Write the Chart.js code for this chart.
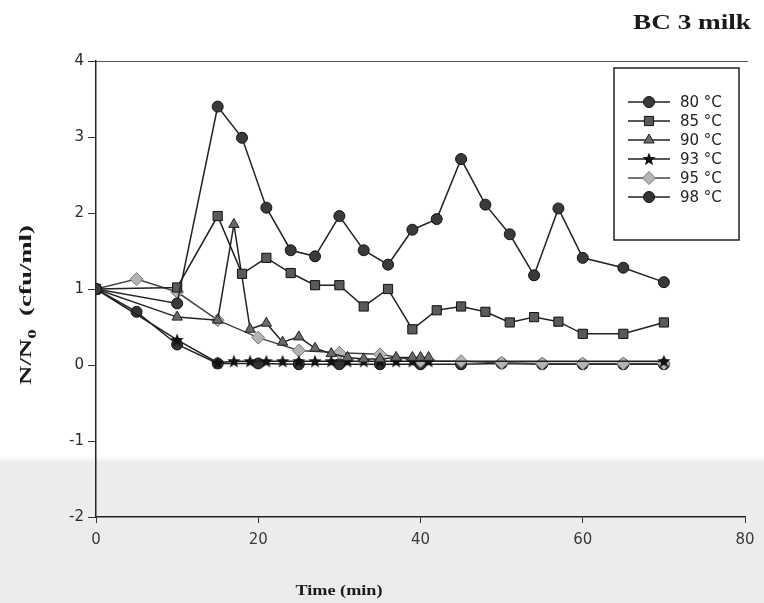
<!DOCTYPE html>
<html>
<head>
<meta charset="utf-8">
<script src="https://cdn.jsdelivr.net/npm/chart.js@4.4.1/dist/chart.umd.min.js"></script>
<style>
  html, body { margin: 0; padding: 0; }
  body {
    width: 764px; height: 603px; overflow: hidden;
    background: linear-gradient(to bottom, #ffffff 0px, #ffffff 456px, #ededed 462px, #ebebeb 603px);
  }
  #chart { display: block; }
</style>
</head>
<body>
<canvas id="chart" width="764" height="603"></canvas>
<script>
// time points (min) and N/N0 values
const time80 = [0, 10, 15, 18, 21, 24, 27, 30, 33, 36, 39, 42, 45, 48, 51, 54, 57, 60, 65, 70];
const n80 = [1, 0.81, 3.4, 2.99, 2.07, 1.51, 1.43, 1.96, 1.51, 1.32, 1.78, 1.92, 2.71, 2.11, 1.72, 1.18, 2.06, 1.41, 1.28, 1.09];

const time85 = [0, 10, 15, 18, 21, 24, 27, 30, 33, 36, 39, 42, 45, 48, 51, 54, 57, 60, 65, 70];
const n85 = [1, 1.02, 1.96, 1.2, 1.41, 1.21, 1.05, 1.05, 0.77, 1.0, 0.47, 0.72, 0.77, 0.7, 0.56, 0.63, 0.57, 0.41, 0.41, 0.56];

const time90 = [0, 10, 15, 17, 19, 21, 23, 25, 27, 29, 31, 33, 35, 37, 39, 40, 41];
const n90 = [1, 0.63, 0.59, 1.85, 0.47, 0.55, 0.3, 0.37, 0.22, 0.15, 0.1, 0.08, 0.08, 0.1, 0.1, 0.1, 0.1];

const time93 = [0, 10, 15, 17, 19, 21, 23, 25, 27, 29, 31, 33, 35, 37, 39, 41, 70];
const n93 = [1, 0.33, 0.03, 0.05, 0.05, 0.05, 0.05, 0.05, 0.05, 0.05, 0.05, 0.05, 0.05, 0.05, 0.05, 0.05, 0.05];

const time95 = [0, 5, 10, 15, 20, 25, 30, 35, 40, 45, 50, 55, 60, 65, 70];
const n95 = [1, 1.13, 0.96, 0.59, 0.36, 0.19, 0.16, 0.14, 0.05, 0.05, 0.03, 0.02, 0.02, 0.02, 0.02];

const time98 = [0, 5, 10, 15, 20, 25, 30, 35, 40, 45, 50, 55, 60, 65, 70];
const n98 = [1, 0.7, 0.27, 0.02, 0.02, 0.01, 0.01, 0.01, 0.01, 0.01, 0.02, 0.01, 0.01, 0.01, 0.01];

const seriesLabels = ['80 °C', '85 °C', '90 °C', '93 °C', '95 °C', '98 °C'];
const xTicks = [0, 20, 40, 60, 80];
const yTicks = [-2, -1, 0, 1, 2, 3, 4];

// filled five point star for the 93 °C series
function makeStar(size, color) {
  const c = document.createElement('canvas');
  c.width = c.height = size;
  const g = c.getContext('2d');
  const R = size / 2, r = R * 0.42;
  g.beginPath();
  for (let i = 0; i < 10; i++) {
    const a = -Math.PI / 2 + i * Math.PI / 5;
    const rad = i % 2 ? r : R;
    g.lineTo(R + rad * Math.cos(a), R + 0.5 + rad * Math.sin(a));
  }
  g.closePath();
  g.fillStyle = color;
  g.fill();
  return c;
}
const starImg = makeStar(14, '#111');

function toPoints(xs, ys) {
  return xs.map((x, i) => ({ x: x, y: ys[i] }));
}

const styles = [
  { pointStyle: 'circle', radius: 5.5, bg: '#3a3a3a', border: '#111', line: '#222' },
  { pointStyle: 'rect', radius: 6.5, bg: '#5a5a5a', border: '#111', line: '#222' },
  { pointStyle: 'triangle', radius: 6, bg: '#6a6a6a', border: '#222', line: '#222' },
  { pointStyle: starImg, radius: 7, bg: '#111', border: '#111', line: '#222' },
  { pointStyle: 'rectRot', radius: 6.5, bg: '#b4b4b4', border: '#777', line: '#444' },
  { pointStyle: 'circle', radius: 5.5, bg: '#333', border: '#111', line: '#222' }
];

const allX = [time80, time85, time90, time93, time95, time98];
const allY = [n80, n85, n90, n93, n95, n98];

const datasets = seriesLabels.map((label, i) => ({
  label: label,
  data: toPoints(allX[i], allY[i]),
  showLine: true,
  borderColor: styles[i].line,
  borderWidth: 1.5,
  pointStyle: styles[i].pointStyle,
  pointRadius: styles[i].radius,
  pointBackgroundColor: styles[i].bg,
  pointBorderColor: styles[i].border,
  pointBorderWidth: 1,
  tension: 0
}));

// stretched serif text, to match the wide lettering of the scan
function wideText(ctx, parts, cx, cy, targetWidth, angle) {
  ctx.save();
  let w = 0;
  parts.forEach(p => { ctx.font = p.font; p.w = ctx.measureText(p.text).width; w += p.w; });
  const sx = targetWidth / w;
  ctx.translate(cx, cy);
  ctx.rotate(angle);
  ctx.scale(sx, 1);
  ctx.fillStyle = '#1a1a1a';
  ctx.textBaseline = 'alphabetic';
  let x = -w / 2;
  parts.forEach(p => {
    ctx.font = p.font;
    ctx.fillText(p.text, x, p.dy);
    x += p.w;
  });
  ctx.restore();
}

const decorPlugin = {
  id: 'decor',
  afterDraw(chart) {
    const ctx = chart.ctx;
    const area = chart.chartArea;

    // top frame line
    ctx.save();
    ctx.strokeStyle = '#555';
    ctx.lineWidth = 1;
    ctx.beginPath();
    ctx.moveTo(area.left, area.top + 0.5);
    ctx.lineTo(748, area.top + 0.5);
    ctx.stroke();

    // legend box
    ctx.strokeStyle = '#222';
    ctx.lineWidth = 1.5;
    ctx.strokeRect(614, 68, 125, 172);
    ctx.font = '15px "DejaVu Sans"';
    ctx.textBaseline = 'middle';
    seriesLabels.forEach((label, i) => {
      const y = 102 + i * 19;
      const s = styles[i];
      ctx.strokeStyle = s.line;
      ctx.lineWidth = 1.5;
      ctx.beginPath();
      ctx.moveTo(628, y);
      ctx.lineTo(670, y);
      ctx.stroke();
      ctx.fillStyle = s.bg;
      ctx.strokeStyle = s.border;
      ctx.lineWidth = 1;
      Chart.helpers.drawPoint(ctx, { pointStyle: s.pointStyle, radius: s.radius, borderWidth: 1, rotation: 0 }, 649, y);
      ctx.fillStyle = '#222';
      ctx.fillText(label, 680, y + 1);
    });
    ctx.restore();

    // axis titles and chart title
    wideText(ctx, [
      { text: 'N/N', font: 'bold 17px "Liberation Serif"', dy: 5 },
      { text: '0', font: 'bold 12px "Liberation Serif"', dy: 10 },
      { text: '  (cfu/ml)', font: 'bold 17px "Liberation Serif"', dy: 5 }
    ], 26, 305, 160, -Math.PI / 2);
    wideText(ctx, [{ text: 'Time (min)', font: 'bold 15px "Liberation Serif"', dy: 5 }], 339, 590, 87, 0);
    wideText(ctx, [{ text: 'BC 3 milk', font: 'bold 20px "Liberation Serif"', dy: 7 }], 692, 22, 118, 0);
  }
};

const ctx = document.getElementById('chart').getContext('2d');
const chart = new Chart(ctx, {
  type: 'scatter',
  data: { datasets: datasets },
  options: {
    responsive: false,
    animation: false,
    devicePixelRatio: 1,
    layout: { padding: { top: 61, right: 19, left: 0, bottom: 0 } },
    plugins: { legend: { display: false }, tooltip: { enabled: false } },
    scales: {
      x: {
        type: 'linear', min: 0, max: 80,
        afterBuildTicks: (s) => { s.ticks = xTicks.map(v => ({ value: v })); },
        ticks: { color: '#3a3a3a', font: { family: 'DejaVu Sans', size: 15 }, padding: 8, maxRotation: 0 },
        grid: { drawOnChartArea: false, drawTicks: true, tickLength: 6, color: '#333' },
        border: { color: '#222', width: 1.5 },
        afterFit: (s) => { s.height = 86; }
      },
      y: {
        min: -2, max: 4,
        afterBuildTicks: (s) => { s.ticks = yTicks.map(v => ({ value: v })); },
        ticks: { color: '#2a2a2a', font: { family: 'DejaVu Sans', size: 15 }, padding: 4 },
        grid: { drawOnChartArea: false, drawTicks: true, tickLength: 8, color: '#333' },
        border: { color: '#2a2222', width: 1.5 },
        afterFit: (s) => { s.width = 96; }
      }
    }
  },
  plugins: [decorPlugin]
});
</script>
</body>
</html>
